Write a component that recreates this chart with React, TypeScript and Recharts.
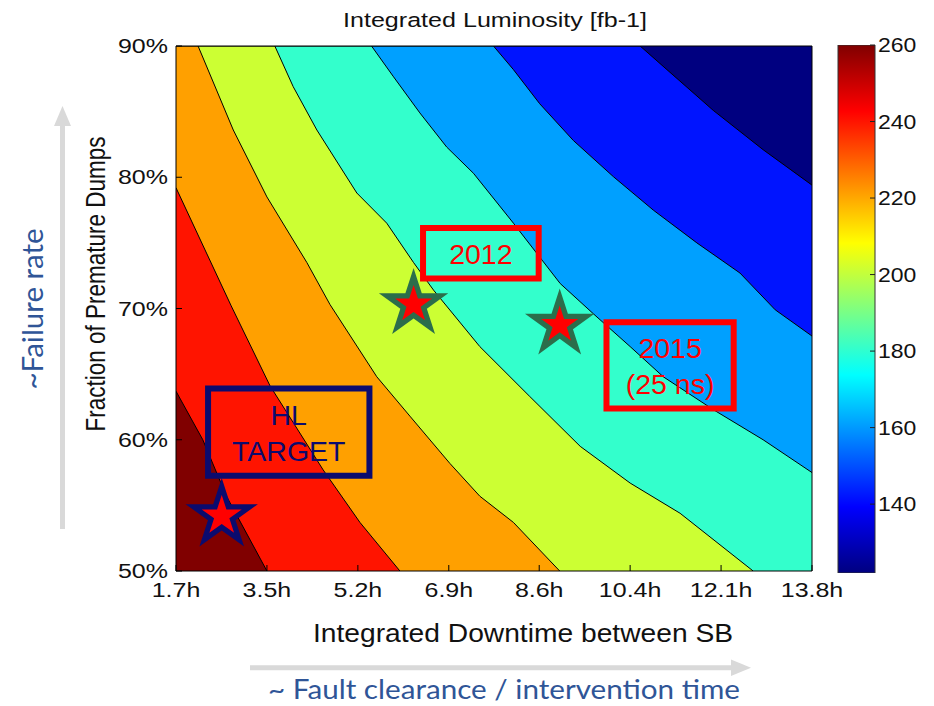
import React from 'react';
import {
  ComposedChart,
  Area,
  Scatter,
  XAxis,
  YAxis,
  CartesianGrid,
  ReferenceArea,
  Label,
  Customized,
  BarChart,
  Bar,
} from 'recharts';

// ---------------------------------------------------------------------------
// DATA
// ---------------------------------------------------------------------------

// x: integrated downtime between stable beams [h], y: fraction of premature dumps [%]
const xTickValues = [1.7, 3.43, 5.16, 6.89, 8.61, 10.34, 12.07, 13.8];
const xTickLabels = ['1.7h', '3.5h', '5.2h', '6.9h', '8.6h', '10.4h', '12.1h', '13.8h'];
const yTickValues = [50, 60, 70, 80, 90];

// colour bar: integrated luminosity [fb-1]
const colorbarRange = [122, 260];
const colorbarTicks = [140, 160, 180, 200, 220, 240, 260];

// contour lines (level in fb-1), traced as (hours, %) points.
// lines that leave through the top edge start at the clipped top-left corner
const lvl130 = [
  { h: 1.7, y: 90 }, { h: 10.53, y: 90 }, { h: 11.04, y: 88.2 }, { h: 11.92, y: 85.1 },
  { h: 12.87, y: 82.1 }, { h: 13.8, y: 79.4 },
];
const lvl150 = [
  { h: 1.7, y: 90 }, { h: 7.74, y: 90 }, { h: 8.12, y: 88.2 }, { h: 8.62, y: 85.6 },
  { h: 9.26, y: 82.8 }, { h: 10.02, y: 80.05 }, { h: 10.78, y: 77.5 }, { h: 11.61, y: 75.0 },
  { h: 12.43, y: 72.7 }, { h: 13.1, y: 69.9 }, { h: 13.8, y: 67.9 },
];
const lvl170 = [
  { h: 1.7, y: 90 }, { h: 5.42, y: 90 }, { h: 5.83, y: 87.7 }, { h: 6.34, y: 84.9 },
  { h: 6.85, y: 82.3 }, { h: 7.36, y: 80.3 }, { h: 8.12, y: 76.5 }, { h: 9.01, y: 71.9 },
  { h: 9.64, y: 69.6 }, { h: 10.34, y: 67.1 }, { h: 10.97, y: 64.8 }, { h: 11.92, y: 62.3 },
  { h: 12.87, y: 60.0 }, { h: 13.8, y: 57.5 },
];
const lvl190 = [
  { h: 1.7, y: 90 }, { h: 3.58, y: 90 }, { h: 3.93, y: 86.9 }, { h: 4.38, y: 83.6 },
  { h: 5.14, y: 78.8 }, { h: 5.71, y: 76.5 }, { h: 6.22, y: 73.5 }, { h: 6.6, y: 71.4 },
  { h: 7.48, y: 67.1 }, { h: 8.43, y: 63.3 }, { h: 9.39, y: 59.5 }, { h: 10.34, y: 56.7 },
  { h: 11.29, y: 54.4 }, { h: 12.68, y: 50 },
];
const lvl210 = [
  { h: 1.7, y: 90 }, { h: 2.12, y: 90 }, { h: 2.79, y: 83.6 }, { h: 3.43, y: 78.5 },
  { h: 4.19, y: 73.5 }, { h: 4.63, y: 70.3 }, { h: 5.52, y: 64.8 }, { h: 6.15, y: 61.8 },
  { h: 6.91, y: 58.2 }, { h: 7.48, y: 55.7 }, { h: 8.12, y: 53.7 }, { h: 9.0, y: 50 },
];
const lvl230 = [
  { h: 1.7, y: 79.2 }, { h: 2.75, y: 70.2 }, { h: 3.49, y: 64.1 }, { h: 4.5, y: 57.7 },
  { h: 5.2, y: 53.7 }, { h: 5.96, y: 50 },
];
const lvl250 = [
  { h: 1.7, y: 63.7 }, { h: 2.21, y: 60.0 }, { h: 2.66, y: 55.7 }, { h: 3.43, y: 50 },
];

// operating points
const targetPoint = [{ h: 2.57, y: 54.2 }];
const runPoints = [
  { h: 6.22, y: 70.3, run: '2012' },
  { h: 9.0, y: 68.75, run: '2015' },
];

// ---------------------------------------------------------------------------
// STYLES
// ---------------------------------------------------------------------------

const FONT = '"Liberation Sans", Arial, sans-serif';
const NOTE_FONT = 'Lato, "Open Sans", sans-serif';

// jet colours of the filled bands, lowest level first
const bandColors = {
  below130: '#000080',
  lvl130: '#0014FF',
  lvl150: '#00A0FF',
  lvl170: '#33FFCC',
  lvl190: '#CCFF33',
  lvl210: '#FFA000',
  lvl230: '#FF1400',
  lvl250: '#800000',
};

const jetStops = [
  { offset: 0, color: '#000080' },
  { offset: 0.125, color: '#0000FF' },
  { offset: 0.375, color: '#00FFFF' },
  { offset: 0.625, color: '#FFFF00' },
  { offset: 0.875, color: '#FF0000' },
  { offset: 1, color: '#800000' },
];

const NOTE_BLUE = '#2F5597';
const BOX_RED = '#FF0000';
const NAVY = '#0B0B6E';
const STAR_GREEN = '#2B6E4B';

// ---------------------------------------------------------------------------
// HELPERS
// ---------------------------------------------------------------------------

function starPoints(cx: number, cy: number, r: number): string {
  const pts: string[] = [];
  for (let i = 0; i < 10; i++) {
    const a = -Math.PI / 2 + (i * Math.PI) / 5;
    const rr = i % 2 === 0 ? r : r * 0.382;
    pts.push(`${cx + rr * Math.cos(a)},${cy + rr * Math.sin(a)}`);
  }
  return pts.join(' ');
}

const makeStar = (edge: string, outer: number, inner: number) => (props: any) => {
  const { cx, cy } = props;
  if (cx == null || cy == null) return <g />;
  return (
    <g>
      <polygon points={starPoints(cx, cy, outer)} fill={edge} />
      <polygon points={starPoints(cx, cy, inner)} fill="#FF0000" />
    </g>
  );
};

const XTick = (props: any) => {
  const { x, y, index } = props;
  return (
    <text
      transform={`translate(${x},${y + 26}) scale(1.25,1)`}
      textAnchor="middle"
      fontSize={20}
      fontFamily={FONT}
      fill="#111"
    >
      {xTickLabels[index]}
    </text>
  );
};

const YTick = (props: any) => {
  const { x, y, payload } = props;
  return (
    <text
      transform={`translate(${x},${y + 7}) scale(1.25,1)`}
      textAnchor="end"
      fontSize={20}
      fontFamily={FONT}
      fill="#111"
    >
      {`${payload.value}%`}
    </text>
  );
};

const ColorbarTick = (props: any) => {
  const { x, y, payload } = props;
  return (
    <text
      transform={`translate(${x},${y + 7}) scale(1.15,1)`}
      textAnchor="start"
      fontSize={20}
      fontFamily={FONT}
      fill="#111"
    >
      {payload.value}
    </text>
  );
};

const boxText = (lines: string[], color: string) => (props: any) => {
  const vb = props.viewBox;
  if (!vb) return null;
  const cx = vb.x + vb.width / 2;
  const cy = vb.y + vb.height / 2;
  const offsets = lines.length === 1 ? [10.5] : [-7.5, 28.5];
  return (
    <g>
      {lines.map((t, i) => (
        <text
          key={t}
          x={cx}
          y={cy + offsets[i]}
          textAnchor="middle"
          fontSize={28.5}
          fontFamily={FONT}
          fill={color}
        >
          {t}
        </text>
      ))}
    </g>
  );
};

// title, axis titles and the hand-drawn hint arrows around the plot
const Decorations = () => (
  <g>
    <text x={495} y={27} textAnchor="middle" fontSize={20.5} fontFamily={FONT} fill="#111"
      textLength={304} lengthAdjust="spacingAndGlyphs">
      Integrated Luminosity [fb-1]
    </text>
    <text x={523} y={642} textAnchor="middle" fontSize={25} fontFamily={FONT} fill="#111"
      textLength={420} lengthAdjust="spacingAndGlyphs">
      Integrated Downtime between SB
    </text>
    <text transform="translate(105,284) scale(1.25,1) rotate(-90)" textAnchor="middle" fontSize={22}
      fontFamily={FONT} fill="#111" textLength={295} lengthAdjust="spacingAndGlyphs">
      Fraction of Premature Dumps
    </text>

    <line x1={62.5} y1={529} x2={62.5} y2={122} stroke="#D9D9D9" strokeWidth={5} />
    <polygon points="62.5,106 54,126 71,126" fill="#D9D9D9" />
    <line x1={250} y1={667.7} x2={733} y2={667.7} stroke="#D9D9D9" strokeWidth={5} />
    <polygon points="751,667.7 731,659.5 731,676" fill="#D9D9D9" />

    <text transform="translate(43,309) rotate(-90)" textAnchor="middle" fontSize={28}
      fontFamily={NOTE_FONT} fill={NOTE_BLUE} textLength={161} lengthAdjust="spacingAndGlyphs">
      ~Failure rate
    </text>
    <text x={504} y={699} textAnchor="middle" fontSize={26} fontFamily={NOTE_FONT} fill={NOTE_BLUE}
      textLength={472} lengthAdjust="spacingAndGlyphs">
      ~ Fault clearance / intervention time
    </text>
  </g>
);

const contours = [
  { key: 'lvl130', data: lvl130 },
  { key: 'lvl150', data: lvl150 },
  { key: 'lvl170', data: lvl170 },
  { key: 'lvl190', data: lvl190 },
  { key: 'lvl210', data: lvl210 },
  { key: 'lvl230', data: lvl230 },
  { key: 'lvl250', data: lvl250 },
];

// ---------------------------------------------------------------------------
// CHART
// ---------------------------------------------------------------------------

export default function App(): React.ReactElement {
  return (
    <div style={{ position: 'absolute', left: 0, top: 0, width: 934, height: 706, background: '#fff' }}>
      <ComposedChart
        width={934}
        height={706}
        margin={{ top: 45, right: 121, bottom: 105, left: 116 }}
      >
        <CartesianGrid horizontal={false} vertical={false} fill={bandColors.below130} />
        <XAxis
          dataKey="h"
          type="number"
          domain={[1.7, 13.8]}
          ticks={xTickValues}
          interval={0}
          height={30}
          tickSize={-6}
          tickMargin={6}
          tick={<XTick />}
          axisLine={{ stroke: '#000' }}
          tickLine={{ stroke: '#000' }}
          allowDataOverflow
        />
        <XAxis
          xAxisId="top"
          orientation="top"
          type="number"
          domain={[1.7, 13.8]}
          ticks={xTickValues}
          interval={0}
          height={1}
          tickSize={-6}
          tickFormatter={() => ''}
          axisLine={{ stroke: '#000' }}
          tickLine={{ stroke: '#000' }}
        />
        <YAxis
          dataKey="y"
          type="number"
          domain={[50, 90]}
          ticks={yTickValues}
          interval={0}
          width={60}
          tickSize={-6}
          tickMargin={14}
          tick={<YTick />}
          axisLine={{ stroke: '#000' }}
          tickLine={{ stroke: '#000' }}
          allowDataOverflow
        />
        <YAxis
          yAxisId="r"
          orientation="right"
          type="number"
          domain={[50, 90]}
          ticks={yTickValues}
          interval={0}
          width={1}
          tickSize={-6}
          tickFormatter={() => ''}
          axisLine={{ stroke: '#000' }}
          tickLine={{ stroke: '#000' }}
        />

        {contours.map((c) => (
          <Area
            key={c.key}
            data={c.data}
            dataKey="y"
            type="linear"
            fill={(bandColors as any)[c.key]}
            fillOpacity={1}
            stroke="#000"
            strokeWidth={1}
            dot={false}
            activeDot={false}
            isAnimationActive={false}
          />
        ))}

        <Scatter
          data={targetPoint}
          dataKey="y"
          shape={makeStar(NAVY, 38, 21)}
          isAnimationActive={false}
        />
        <Scatter
          data={runPoints}
          dataKey="y"
          shape={makeStar(STAR_GREEN, 36.5, 19.5)}
          isAnimationActive={false}
        />

        <ReferenceArea x1={2.31} x2={5.38} y1={57.25} y2={63.9} fill="none" fillOpacity={0}
          stroke={NAVY} strokeWidth={6} zIndex={650}>
          <Label content={boxText(['HL', 'TARGET'], NAVY)} />
        </ReferenceArea>
        <ReferenceArea x1={6.4} x2={8.6} y1={72.28} y2={76.14} fill="none" fillOpacity={0}
          stroke={BOX_RED} strokeWidth={6} zIndex={650}>
          <Label content={boxText(['2012'], BOX_RED)} />
        </ReferenceArea>
        <ReferenceArea x1={9.89} x2={12.31} y1={62.38} y2={68.96} fill="none" fillOpacity={0}
          stroke={BOX_RED} strokeWidth={6} zIndex={650}>
          <Label content={boxText(['2015', '(25 ns)'], BOX_RED)} />
        </ReferenceArea>

        <Customized component={Decorations} />
      </ComposedChart>

      <div style={{ position: 'absolute', left: 830, top: 30, width: 104, height: 560 }}>
        <BarChart
          width={104}
          height={560}
          data={[{ name: 'lumi', range: colorbarRange }]}
          margin={{ top: 15, right: 9, bottom: 17, left: 7 }}
          barCategoryGap={0}
        >
          <defs>
            <linearGradient id="jet" x1="0" y1="1" x2="0" y2="0">
              {jetStops.map((s) => (
                <stop key={s.offset} offset={s.offset} stopColor={s.color} />
              ))}
            </linearGradient>
          </defs>
          <XAxis dataKey="name" hide />
          <YAxis
            yAxisId="l"
            orientation="left"
            type="number"
            domain={colorbarRange}
            ticks={colorbarTicks}
            interval={0}
            width={1}
            tickSize={-5}
            tickFormatter={() => ''}
            axisLine={false}
            tickLine={{ stroke: '#222' }}
          />
          <YAxis
            yAxisId="cb"
            orientation="right"
            type="number"
            domain={colorbarRange}
            ticks={colorbarTicks}
            interval={0}
            width={50}
            tickSize={-5}
            tickMargin={8}
            tick={<ColorbarTick />}
            axisLine={false}
            tickLine={{ stroke: '#222' }}
            allowDataOverflow
          />
          <Bar
            yAxisId="cb"
            dataKey="range"
            fill="url(#jet)"
            stroke="#333"
            strokeWidth={1}
            isAnimationActive={false}
          />
        </BarChart>
      </div>
    </div>
  );
}
